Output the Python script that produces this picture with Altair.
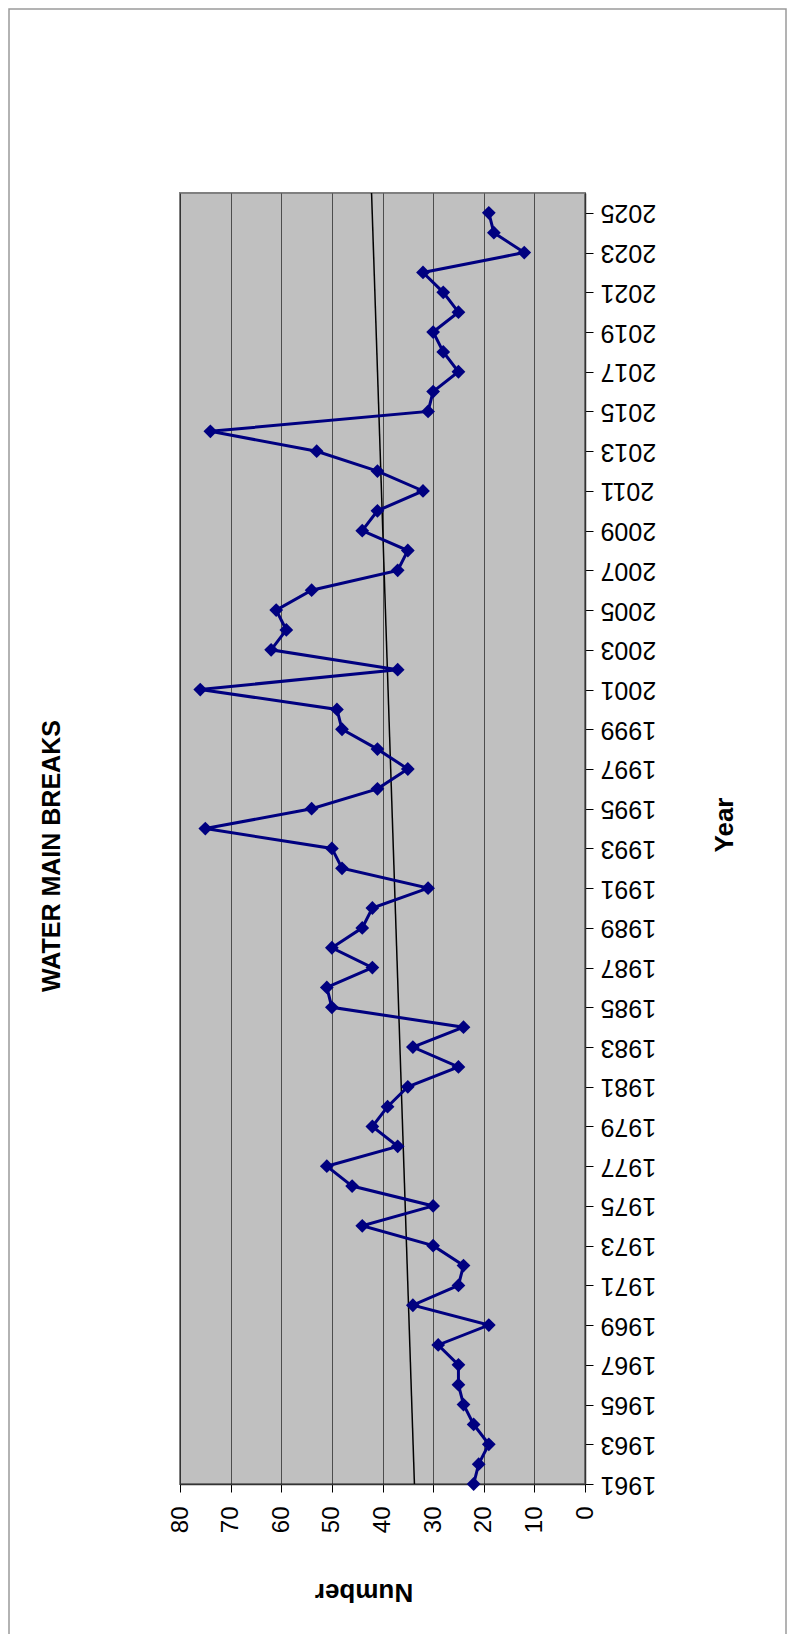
import altair as alt
import pandas as pd

# ---- data ----
years = list(range(1961, 2026))
breaks = [22, 21, 19, 22, 24, 25, 25, 29, 19, 34, 25, 24, 30,
          44, 30, 46, 51, 37, 42, 39, 35, 25, 34, 24, 50, 51,
          42, 50, 44, 42, 31, 48, 50, 75, 54, 41, 35, 41, 48,
          49, 76, 37, 62, 59, 61, 54, 37, 35, 44, 41, 32, 41,
          53, 74, 31, 30, 25, 28, 30, 25, 28, 32, 12, 18, 19]
year_ticks = list(range(1961, 2026, 2))
number_ticks = [0, 10, 20, 30, 40, 50, 60, 70, 80]
title_text = "WATER MAIN BREAKS"
x_title = "Number"
y_title = "Year"

FONT = "Liberation Sans"
NAVY = "#000080"
W, H = 405, 1291

df = pd.DataFrame({"Year": years, "Number": breaks})

x_enc = alt.X(
    "Number:Q",
    scale=alt.Scale(domain=[0, 80], reverse=True, nice=False, zero=False),
    axis=alt.Axis(
        orient="bottom", values=number_ticks, title=None, grid=True,
        gridColor="#000000", gridOpacity=0.6, gridWidth=1,
        labelAngle=270, labelAlign="right", labelBaseline="middle",
        labelFontSize=24, labelFont=FONT, labelColor="black",
        labelPadding=14, tickSize=8, tickColor="#000000", tickWidth=1,
        domainColor="#333333", domainWidth=1.5,
        labelFlush=False, labelOverlap=False, labelBound=False,
    ),
)
y_enc = alt.Y(
    "Year:Q",
    scale=alt.Scale(domain=[1961, 2026], nice=False, zero=False),
    axis=alt.Axis(
        orient="right", values=year_ticks, format="d", title=None, grid=False,
        labelAngle=180, labelAlign="right", labelBaseline="middle",
        labelFontSize=25, labelFont=FONT, labelColor="black",
        labelPadding=7, tickSize=8, tickColor="#000000", tickWidth=1,
        domainColor="#333333", domainWidth=1.5,
        labelFlush=False, labelOverlap=False, labelBound=False,
    ),
)

base = alt.Chart(df)

trend = base.transform_regression(
    "Year", "Number", extent=[1961, 2026]
).mark_line(color="black", strokeWidth=1.5).encode(
    x=x_enc, y=y_enc, order=alt.Order("Year:Q")
)

line = base.mark_line(color=NAVY, strokeWidth=3).encode(
    x=x_enc, y=y_enc, order=alt.Order("Year:Q")
)

points = base.mark_point(
    shape="diamond", filled=True, size=190, color=NAVY, opacity=1
).encode(x=x_enc, y=y_enc)

one = pd.DataFrame({"t": [title_text], "xt": [x_title], "yt": [y_title]})

title = alt.Chart(one).mark_text(
    angle=270, fontSize=25, fontWeight="bold", font=FONT,
    align="center", baseline="middle", color="black"
).encode(x=alt.value(-128), y=alt.value(663), text="t:N")

xtitle = alt.Chart(one).mark_text(
    angle=180, fontSize=26, fontWeight="bold", font=FONT,
    align="center", baseline="middle", color="black"
).encode(x=alt.value(184), y=alt.value(1399), text="xt:N")

ytitle = alt.Chart(one).mark_text(
    angle=270, fontSize=26, fontWeight="bold", font=FONT,
    align="center", baseline="middle", color="black"
).encode(x=alt.value(545), y=alt.value(632), text="yt:N")

border = alt.Chart(one).mark_rect(
    fill=None, stroke="#9a9a9a", strokeWidth=1.5
).encode(
    x=alt.value(-171), x2=alt.value(606),
    y=alt.value(-184), y2=alt.value(1500),
)

chart = alt.layer(
    border, trend, line, points, title, xtitle, ytitle
).properties(
    width=W, height=H,
    autosize=alt.AutoSizeParams(type="none"),
    padding={"left": 172, "top": 185, "right": 203, "bottom": 150},
    background="white",
).configure_view(
    fill="#C0C0C0", stroke="#808080", strokeWidth=2
)

chart.save("out.html", embed_options={"renderer": "svg", "actions": False})
